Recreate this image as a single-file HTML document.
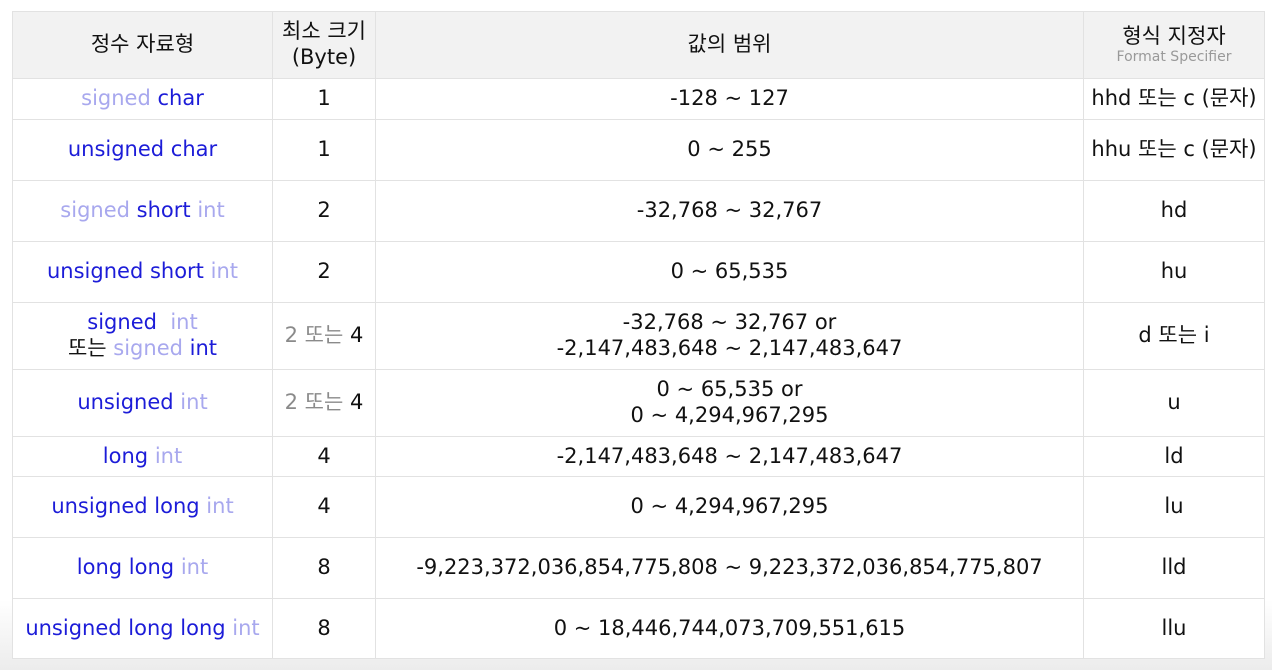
<!DOCTYPE html>
<html><head><meta charset="utf-8"><style>
body{margin:0;width:1272px;height:670px;background:linear-gradient(#fff 0,#fff 600px,#ececec 670px);overflow:hidden;font-family:"DejaVu Sans","Noto Sans CJK KR",sans-serif;}
table{position:absolute;left:12px;top:11px;border-collapse:collapse;width:1252px;table-layout:fixed;font-size:21px;color:#111;background:#fff;}
td,th{border:1px solid #e2e2e2;text-align:center;vertical-align:middle;padding:0 0 2px 0;line-height:26px;font-weight:normal;white-space:nowrap;}
th{background:#f2f2f2;}
.b{color:#1c1cd8}.l{color:#a8a8ee}.g{color:#8a8a8a}
.fs{font-size:14px;color:#999;line-height:16px;display:block}
</style></head><body>
<table>
<colgroup><col style="width:260px"><col style="width:103px"><col style="width:708px"><col style="width:181px"></colgroup>
<tr style="height:67px"><th>정수 자료형</th><th>최소 크기<br>(Byte)</th><th>값의 범위</th><th>형식 지정자<span class="fs">Format Specifier</span></th></tr>
<tr style="height:41px"><td><span class="l">signed</span> <span class="b">char</span></td><td>1</td><td>-128 ~ 127</td><td>hhd 또는 c (문자)</td></tr>
<tr style="height:61px"><td><span class="b">unsigned char</span></td><td>1</td><td>0 ~ 255</td><td>hhu 또는 c (문자)</td></tr>
<tr style="height:61px"><td><span class="l">signed</span> <span class="b">short</span> <span class="l">int</span></td><td>2</td><td>-32,768 ~ 32,767</td><td>hd</td></tr>
<tr style="height:61px"><td><span class="b">unsigned short</span> <span class="l">int</span></td><td>2</td><td>0 ~ 65,535</td><td>hu</td></tr>
<tr style="height:67px"><td><span class="b">signed</span>&nbsp; <span class="l">int</span><br>또는 <span class="l">signed</span> <span class="b">int</span></td><td><span class="g">2 또는</span> 4</td><td>-32,768 ~ 32,767 or<br>-2,147,483,648 ~ 2,147,483,647</td><td>d 또는 i</td></tr>
<tr style="height:67px"><td><span class="b">unsigned</span> <span class="l">int</span></td><td><span class="g">2 또는</span> 4</td><td>0 ~ 65,535 or<br>0 ~ 4,294,967,295</td><td>u</td></tr>
<tr style="height:40px"><td><span class="b">long</span> <span class="l">int</span></td><td>4</td><td>-2,147,483,648 ~ 2,147,483,647</td><td>ld</td></tr>
<tr style="height:61px"><td><span class="b">unsigned long</span> <span class="l">int</span></td><td>4</td><td>0 ~ 4,294,967,295</td><td>lu</td></tr>
<tr style="height:61px"><td><span class="b">long long</span> <span class="l">int</span></td><td>8</td><td>-9,223,372,036,854,775,808 ~ 9,223,372,036,854,775,807</td><td>lld</td></tr>
<tr style="height:60px"><td><span class="b">unsigned long long</span> <span class="l">int</span></td><td>8</td><td>0 ~ 18,446,744,073,709,551,615</td><td>llu</td></tr>
</table>
</body></html>
